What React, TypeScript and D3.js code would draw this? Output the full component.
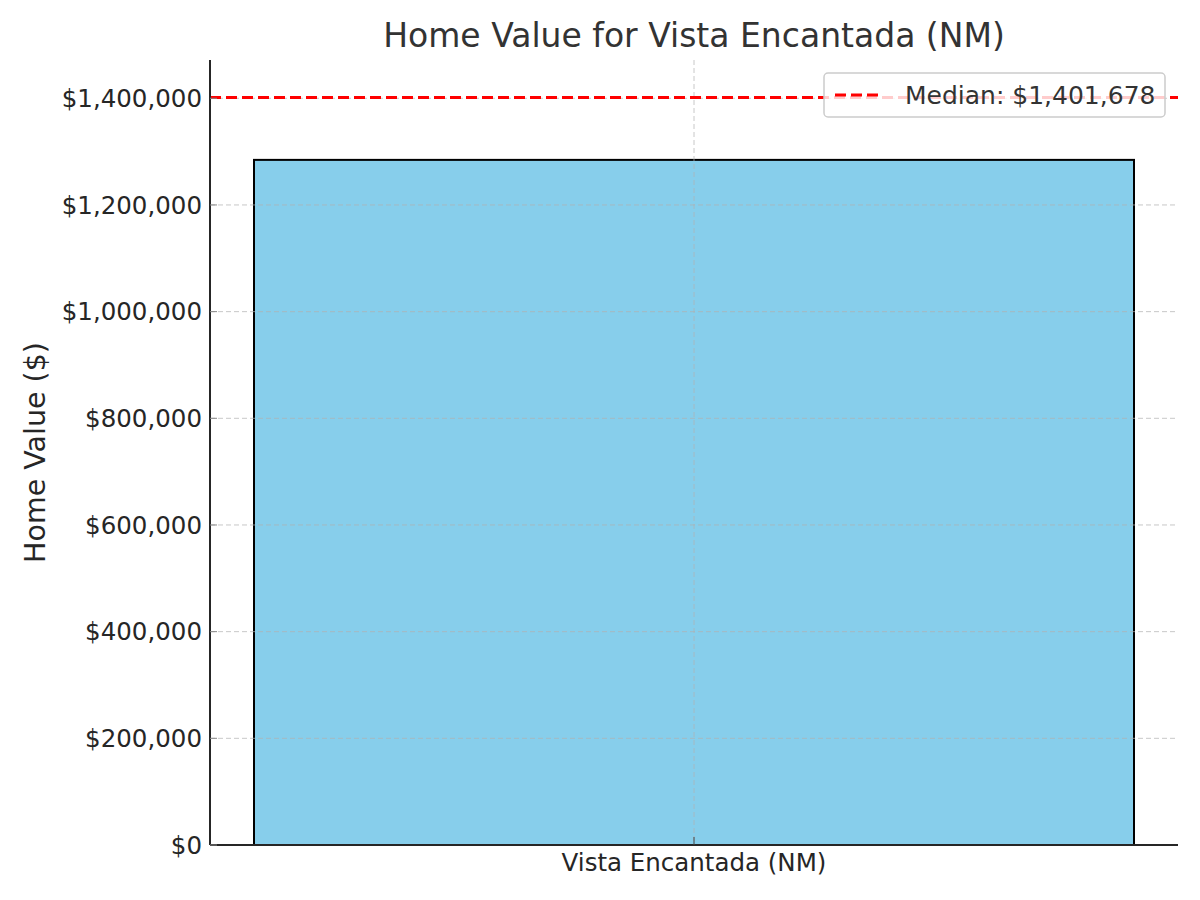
import * as d3 from 'd3';

const categories = ["Vista Encantada (NM)"];
const homeValues = [1284500];
const medianValue = 1401678;
const yTickValues = [0, 200000, 400000, 600000, 800000, 1000000, 1200000, 1400000];

const width = 1200;
const height = 900;
const margin = { top: 60, right: 22, bottom: 55, left: 210 };
const font = "'DejaVu Sans', sans-serif";

export default function App() {
  const x = d3.scaleLinear()
    .domain([-0.44, categories.length - 1 + 0.44])
    .range([margin.left, width - margin.right]);

  const y = d3.scaleLinear()
    .domain([0, Math.max(medianValue, d3.max(homeValues) ?? 0) * 1.05])
    .range([height - margin.bottom, margin.top]);

  const fmt = (v: number) => "$" + d3.format(",")(v);
  const x0 = margin.left;
  const x1 = width - margin.right;
  const yBottom = height - margin.bottom;

  return (
    <svg width={width} height={height} style={{ position: 'absolute', left: 0, top: 0, background: '#fff' }}>
      {/* bars */}
      {homeValues.map((v, i) => (
        <rect key={i}
          x={x(i - 0.4)} y={y(v)}
          width={x(i + 0.4) - x(i - 0.4)} height={y(0) - y(v)}
          fill="#87CEEB" stroke="#000" strokeWidth={2} />
      ))}

      {/* grid */}
      <g stroke="#b0b0b0" strokeOpacity={0.7} strokeDasharray="5,3" strokeWidth={1}>
        {yTickValues.map(t => (
          <line key={t} x1={x0} x2={x1} y1={y(t)} y2={y(t)} />
        ))}
        {categories.map((c, i) => (
          <line key={c} x1={x(i)} x2={x(i)} y1={margin.top} y2={yBottom} />
        ))}
      </g>

      {/* median line */}
      <line x1={x0} x2={x1} y1={y(medianValue)} y2={y(medianValue)}
        stroke="#ff0000" strokeWidth={3} strokeDasharray="11,5" />

      {/* spines */}
      <line x1={x0} x2={x0} y1={margin.top} y2={yBottom} stroke="#262626" strokeWidth={2} />
      <line x1={x0} x2={x1} y1={yBottom} y2={yBottom} stroke="#262626" strokeWidth={2} />

      {/* y ticks */}
      {yTickValues.map(t => (
        <g key={t}>
          <line x1={x0} x2={x0 + 7} y1={y(t)} y2={y(t)} stroke="#888" strokeWidth={1} />
          <text x={x0 - 8} y={y(t)} dy="0.36em" textAnchor="end"
            fontFamily={font} fontSize={24.5} fill="#262626">{fmt(t)}</text>
        </g>
      ))}

      {/* x ticks */}
      {categories.map((c, i) => (
        <g key={c}>
          <line x1={x(i)} x2={x(i)} y1={yBottom} y2={yBottom - 8} stroke="#444" strokeWidth={1} />
          <text x={x(i)} y={871} textAnchor="middle"
            fontFamily={font} fontSize={24.5} fill="#262626">{c}</text>
        </g>
      ))}

      {/* y label */}
      <text transform={`translate(45, ${(margin.top + yBottom) / 2}) rotate(-90)`}
        textAnchor="middle" fontFamily={font} fontSize={28.5} fill="#262626">Home Value ($)</text>

      {/* title */}
      <text x={(x0 + x1) / 2} y={47} textAnchor="middle"
        fontFamily={font} fontSize={33} fill="#333333">Home Value for Vista Encantada (NM)</text>

      {/* legend */}
      <g>
        <rect x={824} y={73} width={341} height={44} rx={4}
          fill="#fff" fillOpacity={0.8} stroke="#cccccc" strokeWidth={1.5} />
        <line x1={835} x2={880} y1={95} y2={95} stroke="#ff0000" strokeWidth={3} strokeDasharray="11,5" />
        <text x={905} y={95} dy="0.36em" fontFamily={font} fontSize={25} fill="#333333">
          {`Median: ${fmt(medianValue)}`}
        </text>
      </g>
    </svg>
  );
}
